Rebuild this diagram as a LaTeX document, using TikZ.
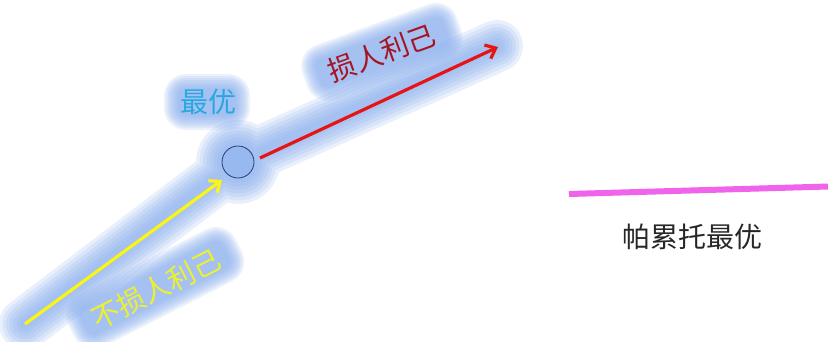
\documentclass[tikz,border=0pt]{standalone}
\usepackage{fontspec}
\newfontfamily\cjk{Noto Sans CJK SC}
\usetikzlibrary{arrows.meta}
\definecolor{glowc}{RGB}{135,172,236}
\definecolor{yel}{RGB}{250,245,20}
\definecolor{yeltext}{RGB}{236,240,45}
\definecolor{redarr}{RGB}{230,20,20}
\definecolor{redtext}{RGB}{165,20,35}
\definecolor{cyantext}{RGB}{40,168,225}
\definecolor{magline}{RGB}{240,100,235}
\definecolor{circfill}{RGB}{150,185,240}
\definecolor{circline}{RGB}{40,60,120}
\tikzset{
  cjktext/.style={font=\cjk\fontsize{28}{28}\selectfont, inner sep=0pt},
  glowfill/.style={fill=glowc, fill opacity=0.16, draw=none},
  arrowline/.style={line width=3.2pt, -{Straight Barb[length=9pt,width=15pt]}},
}
\newcommand\tglow[5]{%
  \foreach \d in {0,4,8,12,16,20,24,28}{%
    \begin{scope}[shift={(#1,#2)}, rotate=#3]
      \fill[glowfill, rounded corners=8+\d/2] (-#4/2-\d/2,-#5/2-\d/2) rectangle (#4/2+\d/2,#5/2+\d/2);
    \end{scope}}}
\begin{document}
\begin{tikzpicture}[x=1pt,y=-1pt]
\useasboundingbox (0,0) rectangle (828,341);
% glow around arrows and circle
\foreach \w in {52,45,38,31,24,17,10}{%
  \draw[glowc, opacity=0.18, line width=\w pt, line cap=round, line join=round]
    (25,324) -- (238,162) -- (497,46) (238,162) circle[radius=16];
  \fill[glowc, opacity=0.18] (238,162) circle[radius=16];
}
% text glows
\tglow{207}{102}{0}{58}{28}
\tglow{382}{52}{20}{136}{30}
\tglow{155}{288}{27}{160}{30}
% elements
\node[circle, draw=circline, fill=circfill, line width=0.8pt, minimum size=32pt, inner sep=0pt] (opt) at (238,162) {};
\coordinate (ystart) at (25,324);
\coordinate (yend) at (222,180);
\coordinate (rstart) at (260,158);
\coordinate (rend) at (498,47);
\draw[arrowline, yel] (ystart) -- (yend);
\draw[arrowline, redarr] (rstart) -- (rend);
\node[cjktext, text=cyantext] (zy) at (208,102) {最优};
\node[cjktext, text=redtext, rotate=20] (srlj) at (382,53) {损人利己};
\node[cjktext, text=yeltext, rotate=27] (bsrlj) at (156,289) {不损人利己};
\coordinate (ma) at (569,194);
\coordinate (mb) at (828,186.5);
\draw[magline, line width=6pt] (ma) -- (mb);
\node[cjktext, text=black!85] (pareto) at (692,237) {帕累托最优};
\end{tikzpicture}
\end{document}
